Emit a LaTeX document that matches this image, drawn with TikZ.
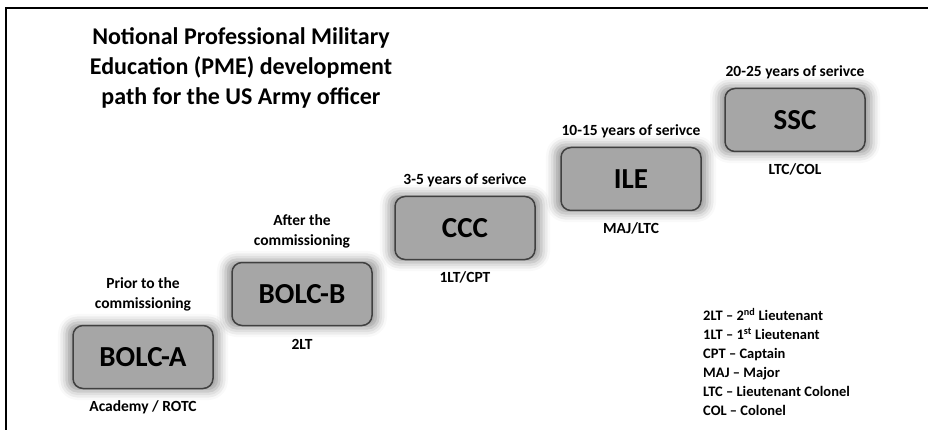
\documentclass[tikz,border=0pt]{standalone}
\usepackage{fontspec}
\setmainfont{Carlito}
\usetikzlibrary{shadows.blur}

\tikzset{
  course/.style={draw=black!75, line width=1.5pt, fill=black!35,
    rounded corners=10pt, minimum width=140pt, minimum height=63pt,
    font=\bfseries\fontsize{29}{34}\selectfont,
    blur shadow={shadow xshift=0pt, shadow yshift=0pt,
      shadow blur radius=8pt, shadow opacity=40, shadow scale=1.09}},
  note/.style={font=\bfseries\fontsize{15.5}{20}\selectfont, align=center,
    inner sep=0pt},
}

\begin{document}
\begin{tikzpicture}[x=1pt,y=-1pt]
   \useasboundingbox (0,0) rectangle (928,430);
   \draw[line width=1.2pt] (928,8) -- (6,8) -- (6,430);

   \path (241,68) node[font=\bfseries\fontsize{24}{30}\selectfont,
     align=center] (title)
   {Notional Professional Military\\Education (PME) development\\path for the US Army officer};

   % the five steps of the path
   \path (143,357) node[course] (bolcA) {BOLC-A};
   \path (302,294) node[course] (bolcB) {BOLC-B};
   \path (465,228) node[course] (ccc) {CCC};
   \path (631,179) node[course] (ile) {ILE};
   \path (795,120) node[course] (ssc) {SSC};

   % when
   \path (bolcA.north) node[note, above=13pt] (bolcAtop) {Prior to the\\commissioning};
   \path (bolcB.north) node[note, above=13pt] (bolcBtop) {After the\\commissioning};
   \path (ccc.north) node[note, above=9pt] (ccctop) {3-5 years of serivce};
   \path (ile.north) node[note, above=9pt] (iletop) {10-15 years of serivce};
   \path (ssc.north) node[note, above=9pt] (ssctop) {20-25 years of serivce};

   % rank
   \path (bolcA.south) node[note, below=11pt] (bolcAbot) {Academy / ROTC};
   \path (bolcB.south) node[note, below=13pt] (bolcBbot) {2LT};
   \path (ccc.south) node[note, below=11pt] (cccbot) {1LT/CPT};
   \path (ile.south) node[note, below=11pt] (ilebot) {MAJ/LTC};
   \path (ssc.south) node[note, below=11pt] (sscbot) {LTC/COL};

   \path (703,308) node[anchor=north west, align=left, inner sep=0pt,
     font=\bfseries\fontsize{14.5}{19}\selectfont] (legend)
   {2LT -- 2\textsuperscript{nd} Lieutenant\\
    1LT -- 1\textsuperscript{st} Lieutenant\\
    CPT -- Captain\\
    MAJ -- Major\\
    LTC -- Lieutenant Colonel\\
    COL -- Colonel};
\end{tikzpicture}
\end{document}
